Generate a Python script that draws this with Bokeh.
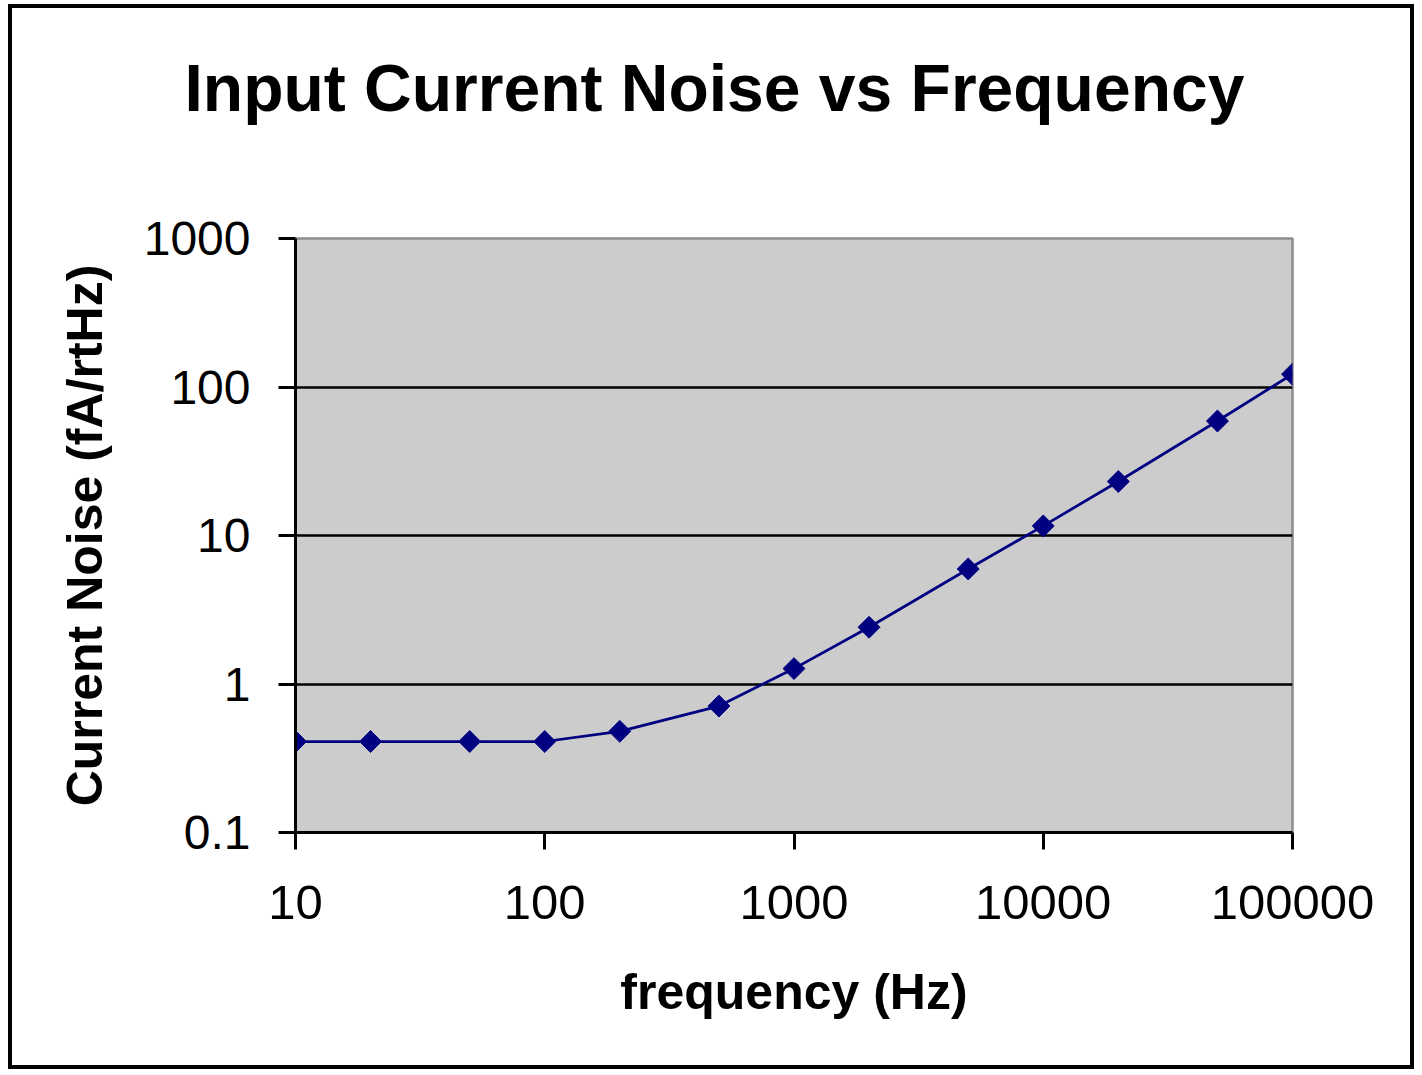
import numpy as np
from bokeh.plotting import figure
from bokeh.models import FixedTicker, Title
from bokeh.embed import file_html
from bokeh.resources import INLINE

freq = [10, 20, 50, 100, 200, 500, 1000, 2000, 5000, 10000, 20000, 50000, 100000]
noise = [0.41, 0.41, 0.41, 0.41, 0.48, 0.71, 1.27, 2.41, 5.95, 11.6, 23.1, 59, 122]
x_ticks = [10, 100, 1000, 10000, 100000]
x_tick_labels = ["10", "100", "1000", "10000", "100000"]
y_ticks = [0.1, 1, 10, 100, 1000]
y_tick_labels = ["0.1", "1", "10", "100", "1000"]
title_text = "Input Current Noise vs Frequency"
x_label = "frequency (Hz)"
y_label = "Current Noise (fA/rtHz)"

FONT = "Liberation Sans"

p = figure(width=1406, height=1065, x_axis_type="log", y_axis_type="log",
           x_range=(x_ticks[0], x_ticks[-1]), y_range=(y_ticks[0], y_ticks[-1]),
           title=None, output_backend="svg", toolbar_location=None,
           min_border_left=283, min_border_right=126,
           min_border_top=230, min_border_bottom=241)
p.margin = (4, 0, 0, 8)
p.styles = {"border": "4px solid black"}

p.background_fill_color = "#cccccc"
p.border_fill_color = "white"
p.outline_line_color = "#8c8c8c"
p.outline_line_width = 2.5

# blank spacer between the frame and the title
spacer = Title(text=" ", text_font=FONT, text_font_size="10px", standoff=96)
p.add_layout(spacer, "above")

# title (added after the spacer, so it sits above it)
title = Title(text=title_text, text_font=FONT, text_font_style="bold",
              text_font_size="66px", text_color="black",
              align="left", offset=-111)
p.add_layout(title, "above")

# grid
p.xgrid.visible = False
p.ygrid.ticker = FixedTicker(ticks=y_ticks[1:-1])
p.ygrid.grid_line_color = "black"
p.ygrid.grid_line_width = 2.5

# axes
for ax, ticks, labels, fs in ((p.below[0], x_ticks, x_tick_labels, "49px"),
                              (p.left[0], y_ticks, y_tick_labels, "48px")):
    ax.ticker = FixedTicker(ticks=ticks)
    ax.major_label_overrides = dict(zip(ticks, labels))
    ax.major_label_text_font = FONT
    ax.major_label_text_font_size = fs
    ax.major_label_text_color = "black"
    ax.axis_line_color = "black"
    ax.axis_line_width = 3
    ax.major_tick_line_color = "black"
    ax.major_tick_line_width = 3
    ax.major_tick_in = 0
    ax.major_tick_out = 17
    ax.minor_tick_line_color = None
    ax.axis_label_text_font = FONT
    ax.axis_label_text_font_style = "bold"
    ax.axis_label_text_font_size = "50px"
    ax.axis_label_text_color = "black"

xax = p.below[0]
yax = p.left[0]
xax.axis_label = x_label
yax.axis_label = y_label
xax.major_label_standoff = 36
yax.major_label_standoff = 28
xax.axis_label_standoff = 42
yax.axis_label_standoff = 28

p.line(freq, noise, line_color="#000080", line_width=2.75)
p.scatter(freq, noise, marker="square", size=15.5, angle=np.pi / 4,
          fill_color="#000080", line_color="#000080")

open("out.html", "w").write(file_html(p, INLINE))
